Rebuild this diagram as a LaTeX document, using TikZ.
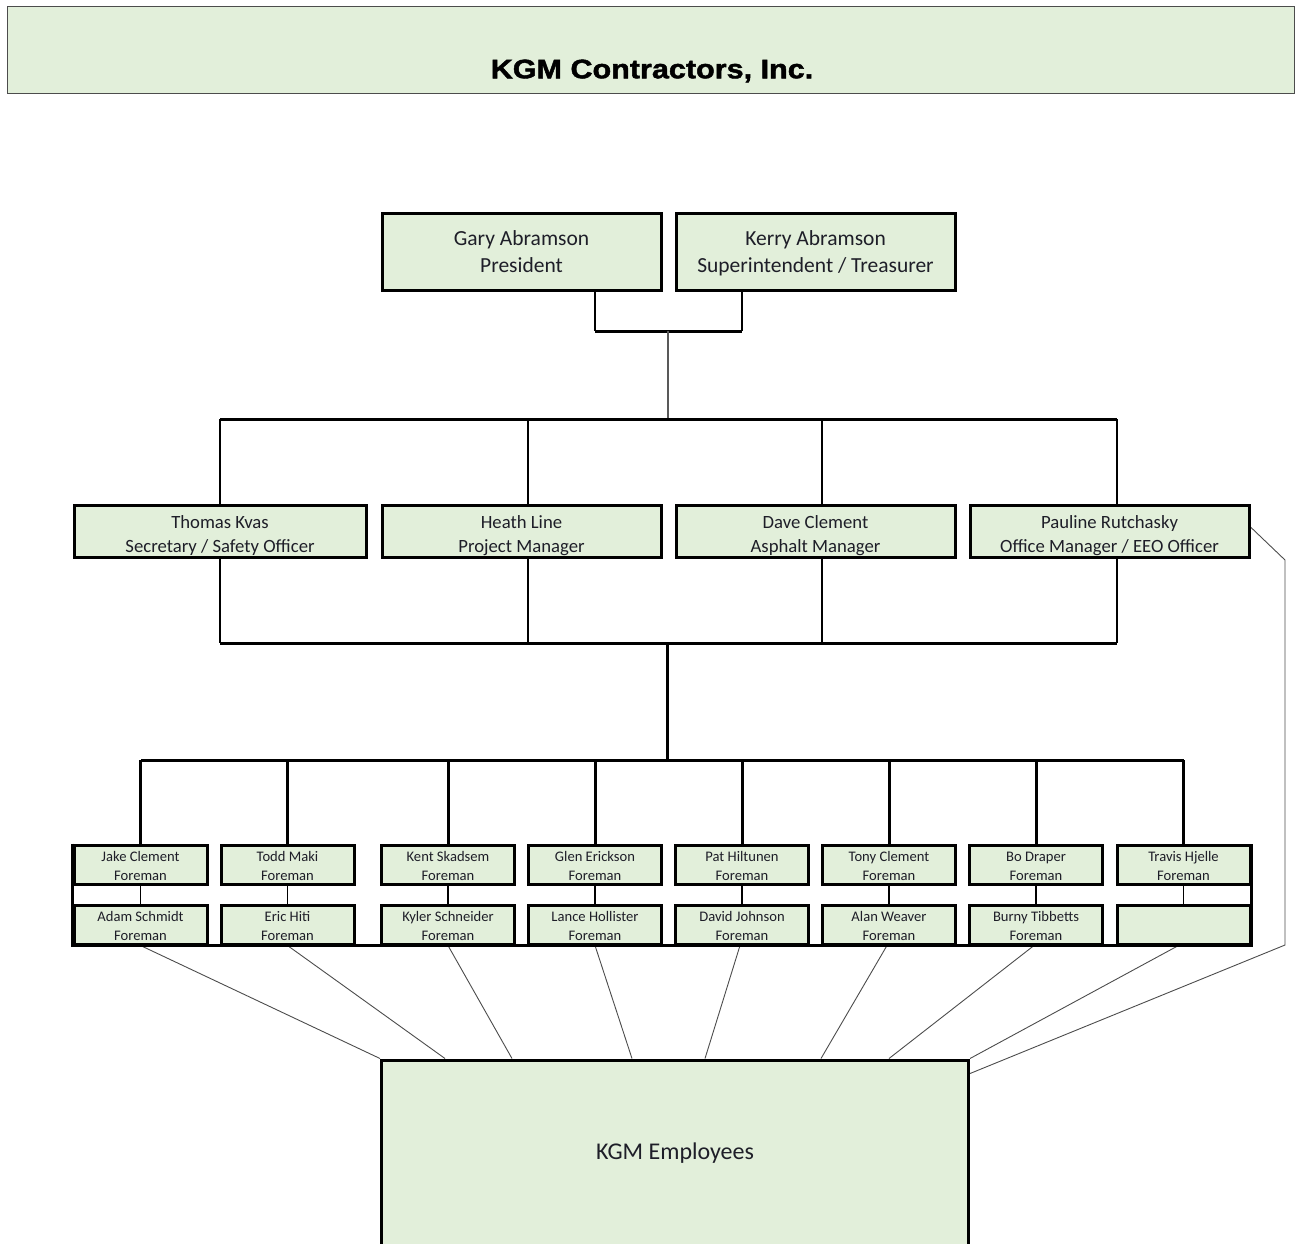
\documentclass[tikz,border=0pt]{standalone}
\usepackage{fontspec}
\setmainfont{Carlito}
\newfontfamily\titlefont[FakeBold=1.6]{Liberation Sans Bold}
\usetikzlibrary{backgrounds}
\definecolor{boxgreen}{RGB}{226,239,218}
\definecolor{txt}{RGB}{30,30,40}
\newlength\toplift
\newcommand\twolines[2]{\raisebox{\toplift}[0pt][0pt]{\begin{tabular}[t]{@{}c@{}}#1\\#2\end{tabular}}}
\begin{document}
\begin{tikzpicture}[x=1pt,y=-1pt,
  box/.style={draw=black, line width=3pt, fill=boxgreen, inner sep=0pt, align=center, text=txt},
  bigbox/.style={box, minimum width=279pt, minimum height=77pt, font=\fontsize{21.5}{27}\selectfont\setlength\toplift{6.1pt}},
  midbox/.style={box, minimum height=52pt, font=\fontsize{18.7}{24}\selectfont\setlength\toplift{2.2pt}},
  fbox/.style={box, minimum width=133pt, minimum height=39pt, font=\fontsize{14.6}{19}\selectfont\setlength\toplift{2.7pt}},
  thinline/.style={draw=black, line width=1.2pt},
  thickline/.style={draw=black, line width=3pt},
  grayline/.style={draw=black!70, line width=0.9pt}]
\useasboundingbox (0,0) rectangle (1295,1243);
\clip (0,0) rectangle (1295,1243);

% title
\node[draw=black!70, line width=1pt, fill=boxgreen, minimum width=1287pt, minimum height=87pt, inner sep=0pt] (title) at (650.5,49.5) {};
\node[font=\titlefont\fontsize{26.8}{30}\selectfont, text=black, inner sep=0pt] (titletext) at (652,71) {\scalebox{1.14}[1]{KGM Contractors, Inc.}};

% top level
\node[bigbox] (gary) at (521.5,251.5) {\twolines{Gary Abramson}{President}};
\node[bigbox] (kerry) at (815.5,251.5) {\twolines{Kerry Abramson}{Superintendent / Treasurer}};

% second level
\node[midbox, minimum width=292pt] (thomas) at (220,531) {\twolines{Thomas Kvas}{Secretary / Safety Officer}};
\node[midbox, minimum width=279pt] (heath) at (521.5,531) {\twolines{Heath Line}{Project Manager}};
\node[midbox, minimum width=279pt] (dave) at (815.5,531) {\twolines{Dave Clement}{Asphalt Manager}};
\node[midbox, minimum width=279pt] (pauline) at (1109.5,531) {\twolines{Pauline Rutchasky}{Office Manager / EEO Officer}};

% foremen top row
\node[fbox] (fa1) at (140.5,864.5) {\twolines{Jake Clement}{Foreman}};
\node[fbox] (fa2) at (287.5,864.5) {\twolines{Todd Maki}{Foreman}};
\node[fbox] (fa3) at (448,864.5) {\twolines{Kent Skadsem}{Foreman}};
\node[fbox] (fa4) at (595,864.5) {\twolines{Glen Erickson}{Foreman}};
\node[fbox] (fa5) at (742,864.5) {\twolines{Pat Hiltunen}{Foreman}};
\node[fbox] (fa6) at (889,864.5) {\twolines{Tony Clement}{Foreman}};
\node[fbox] (fa7) at (1036,864.5) {\twolines{Bo Draper}{Foreman}};
\node[fbox] (fa8) at (1183.5,864.5) {\twolines{Travis Hjelle}{Foreman}};

% foremen bottom row
\node[fbox] (fb1) at (140.5,924.5) {\twolines{Adam Schmidt}{Foreman}};
\node[fbox] (fb2) at (287.5,924.5) {\twolines{Eric Hiti}{Foreman}};
\node[fbox] (fb3) at (448,924.5) {\twolines{Kyler Schneider}{Foreman}};
\node[fbox] (fb4) at (595,924.5) {\twolines{Lance Hollister}{Foreman}};
\node[fbox] (fb5) at (742,924.5) {\twolines{David Johnson}{Foreman}};
\node[fbox] (fb6) at (889,924.5) {\twolines{Alan Weaver}{Foreman}};
\node[fbox] (fb7) at (1036,924.5) {\twolines{Burny Tibbetts}{Foreman}};
\node[fbox] (fb8) at (1183.5,924.5) {};

% employees
\node[box, minimum width=587pt, minimum height=186pt, font=\fontsize{24}{28}\selectfont] (emp) at (675,1153) {KGM Employees};

% junction coordinates
\coordinate (gx) at (595,331);
\coordinate (kx) at (742,331);
\coordinate (gk) at (668,331);
\coordinate (b1l) at (220,419);
\coordinate (b1r) at (1117,419);
\coordinate (b1m) at (668,419);
\coordinate (v2) at (528,419);
\coordinate (v3) at (822,419);
\coordinate (b2l) at (220,643);
\coordinate (b2r) at (1117,643);
\coordinate (b2m) at (667,643);
\coordinate (b3l) at (141,760);
\coordinate (b3r) at (1184,760);
\coordinate (b3m) at (667,760);
\coordinate (rb1) at (1285,560);
\coordinate (rb2) at (1285,945);

\begin{scope}[on background layer]
  % president / superintendent join
  \draw[thinline] (gx |- gary.south) -- (gx);
  \draw[thinline] (kx |- kerry.south) -- (kx);
  \draw[thickline] (gx) -- (kx);
  \draw[draw=black!65, line width=1.1pt] (gk) -- (b1m);
  % upper bar
  \draw[thickline] (b1l) -- (b1r);
  \draw[thinline] (b1l) -- (thomas.north);
  \draw[thinline] (v2) -- (v2 |- heath.north);
  \draw[thinline] (v3) -- (v3 |- dave.north);
  \draw[thinline] (b1r) -- (b1r |- pauline.north);
  % lower bar
  \draw[thinline] (thomas.south) -- (b2l);
  \draw[thinline] (v2 |- heath.south) -- (v2 |- b2l);
  \draw[thinline] (v3 |- dave.south) -- (v3 |- b2l);
  \draw[thinline] (b1r |- pauline.south) -- (b2r);
  \draw[thickline] (b2l) -- (b2r);
  \draw[thickline] (b2m) -- (b3m);
  % foreman bar
  \draw[thickline] (b3l) -- (b3r);
  \foreach \i in {1,...,8} {
    \draw[thickline] (fa\i.north |- b3l) -- (fa\i.north);
    \draw[thinline] (fa\i.south) -- (fb\i.north);
  }
  % lines to employees
  \draw[grayline] (fb1.south) -- (emp.north west);
  \draw[grayline] (fb2.south) -- ([xshift=65pt]emp.north west);
  \draw[grayline] (fb3.south) -- ([xshift=132pt]emp.north west);
  \draw[grayline] (fb4.south) -- ([xshift=252pt]emp.north west);
  \draw[grayline] ([xshift=-2pt]fb5.south) -- ([xshift=325pt]emp.north west);
  \draw[grayline] ([xshift=-2pt]fb6.south) -- ([xshift=441pt]emp.north west);
  \draw[grayline] ([xshift=-2pt]fb7.south) -- ([xshift=509pt]emp.north west);
  \draw[grayline] ([xshift=-5pt]fb8.south) -- (emp.north east);
  \draw[grayline] ([yshift=4pt]pauline.east) -- (rb1) -- (rb2) -- ([yshift=-15pt]emp.north east);
\end{scope}

% frame joining the two foreman rows
\draw[thickline] (fa1.north west) -- (fb1.south west) -- (fb8.south east) -- (fa8.north east);
\end{tikzpicture}
\end{document}
